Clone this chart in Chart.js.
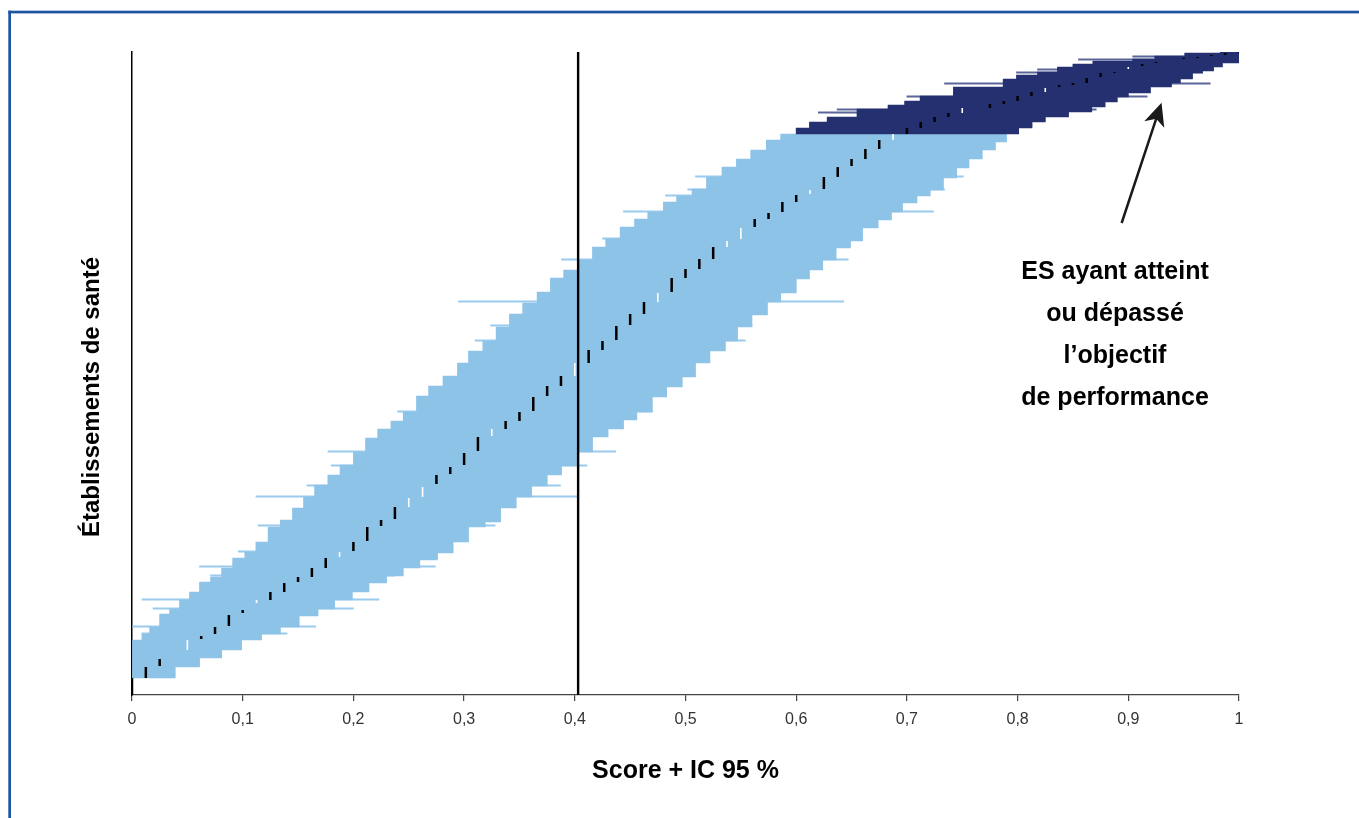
<!DOCTYPE html>
<html lang="fr">
<head>
<meta charset="utf-8">
<title>Établissements de santé – Score + IC 95 %</title>
<script src="https://cdn.jsdelivr.net/npm/chart.js@4.4.1/dist/chart.umd.min.js"></script>
<style>
  html, body { margin: 0; padding: 0; background: #ffffff; overflow: hidden; }
  #wrap { width: 1359px; height: 818px; position: relative; }
</style>
</head>
<body>
<div id="wrap"><canvas id="c" width="1359" height="818"></canvas></div>
<script>
// ---------------- DATA ----------------
// Hospitals are ranked from the bottom (rank 0) to the top; runs of consecutive
// hospitals sharing the same lower / upper bound of the 95 % CI.
const lowerCounts = [55,6,7,13,5,9,8,10,5,9, 10,6,10,15,7,12,11,12,10,10, 13,14,9,8,9,16,10,10,13,12,
                     10,14,13,11,11,14,8,10,13,8, 12,8,7,10,6,7,12,10,8,9, 10,6,
                     6,6,5,8,4,4,5,9,8,4, 3,5,3,3,2,3,3,1];
const lowerValues = [0,0.009,0.016,0.025,0.034,0.043,0.052,0.061,0.071,0.081,
                     0.091,0.102,0.112,0.123,0.134,0.145,0.155,0.165,0.177,0.188,
                     0.200,0.211,0.222,0.234,0.245,0.257,0.268,0.281,0.294,0.304,
                     0.317,0.329,0.341,0.353,0.366,0.378,0.390,0.403,0.416,0.428,
                     0.441,0.454,0.466,0.480,0.492,0.506,0.519,0.533,0.546,0.559,
                     0.573,0.586,
                     0.600,0.612,0.628,0.655,0.683,0.698,0.712,0.742,0.787,0.799,
                     0.818,0.836,0.850,0.868,0.904,0.924,0.951,0.983];
const upperCounts = [17,11,9,8,10,6,7,11,7,9, 8,9,7,8,8,7,11,15,5,14, 11,11,11,9,14,15,8,9,8,15,
                     10,10,14,12,10,14,12,13,9,14, 9,10,12,7,13,8,8,9,7,6, 12,10,9,9,8,8,
                     6,6,5,5,5,5,5,4,6,4, 4,6,2,4,4,11];
const upperValues = [0,0.039,0.061,0.081,0.099,0.117,0.134,0.151,0.168,0.183,
                     0.199,0.214,0.230,0.245,0.260,0.276,0.290,0.304,0.319,0.333,
                     0.347,0.361,0.375,0.388,0.403,0.416,0.430,0.444,0.456,0.470,
                     0.483,0.497,0.509,0.522,0.536,0.547,0.560,0.574,0.586,0.600,
                     0.612,0.624,0.636,0.649,0.660,0.674,0.686,0.696,0.709,0.721,
                     0.733,0.745,0.756,0.768,0.780,0.790,
                     0.801,0.813,0.825,0.846,0.867,0.879,0.890,0.900,0.920,0.939,
                     0.947,0.958,0.967,0.977,0.985,1];

// Single hospitals with a wider confidence interval
const outlierRank = [61,68,86,95,119,128,143,169,198,209,229,243,283,354,369,393,435,456,483,499,505,518,
                     582,585,598,611,622,625,635,638];
const outlierLow  = [0.009,0,0.019,0.009,0.071,0.061,0.096,0.114,0.112,0.158,0.180,0.177,0.240,0.310,0.324,
                     0.295,0.388,0.425,0.444,0.482,0.502,0.509,
                     0.620,0.637,0.700,0.734,0.799,0.818,0.855,0.904];
const outlierHigh = [0.140,0.166,0.200,0.223,0.237,0.274,0.290,0.328,0.403,0.387,0.411,0.437,0.470,0.554,0.560,
                     0.643,0.647,0.660,0.724,0.709,0.734,0.751,
                     0.846,0.871,0.917,0.974,0.967,0.977,1,1];

// Scores (black marks): score value, first rank, number of hospitals
const markScore = [0,0.0125,0.025,0.0625,0.075,0.0875,0.1,0.125,0.1375,0.15,0.1625,0.175,0.2,0.2125,0.225,0.2375,
                   0.275,0.2875,0.3,0.3125,0.3375,0.35,0.3625,0.375,0.3875,0.4125,0.425,0.4375,0.45,0.4625,
                   0.4875,0.5,0.5125,0.525,0.5625,0.575,0.5875,0.6,0.625,0.6375,0.65,0.6625,0.675,
                   0.7,0.7125,0.725,0.7375,0.775,0.7875,0.8,0.8125,0.8375,0.85,0.8625,0.875,0.8875,
                   0.9125,0.925,0.95,0.9625,0.975,0.9875,1];
const markStart = [0,17,29,56,61,69,82,95,103,113,118,127,144,154,169,176,
                   211,221,230,244,266,274,284,299,309,332,345,355,370,381,
                   403,417,426,436,468,476,483,493,506,518,529,536,546,
                   561,567,573,578,587,591,594,599,608,610,612,618,622,
                   629,632,636,637,639,640,642];
const markCount = [17,11,7,3,7,11,3,8,9,5,9,10,9,14,6,12,
                   9,7,12,14,8,9,14,10,10,13,9,14,11,12,
                   14,9,10,12,8,6,10,7,12,10,7,10,9,
                   6,6,5,4,4,3,5,4,2,2,5,4,1,
                   2,1,1,1,1,2,1];
// Scores drawn as white marks
const whiteScore = [0.05,0.1125,0.1875,0.25,0.2625,0.325,0.4,0.475,0.5375,0.55,0.6125,0.6875,0.75,0.825,0.9];
const whiteStart = [45,92,138,188,198,259,319,393,448,456,501,555,582,603,626];
const whiteCount = [10,3,5,9,10,7,13,9,6,11,4,6,5,4,2];

const referenceScore = 0.403;   // vertical reference line
const objective = 0.6;          // lower bound reaching the performance objective

const xTickLabels = ['0','0,1','0,2','0,3','0,4','0,5','0,6','0,7','0,8','0,9','1'];
const xTitle = 'Score + IC 95 %';
const yTitle = 'Établissements de santé';
const noteLines = ['ES ayant atteint', 'ou dépassé', 'l’objectif', 'de performance'];

// ---------------- BUILD ----------------
function expandRuns(counts, values) {
  const out = [];
  counts.forEach((c, i) => { for (let k = 0; k < c; k++) out.push(values[i]); });
  return out;
}
const lowerByRank = expandRuns(lowerCounts, lowerValues);
const upperByRank = expandRuns(upperCounts, upperValues);
const N = lowerByRank.length;
const bandData = lowerByRank.map((lo, r) => ({ y: r, x: [lo, upperByRank[r]] }));
const navyStart = lowerByRank.findIndex(v => v >= objective);
const outlierData = outlierRank.map((r, i) => ({ y: r, x: [outlierLow[i], outlierHigh[i]] }));

function segments(scores, starts, counts) {
  const out = [];
  scores.forEach((s, i) => {
    out.push({ x: s, y: starts[i] - 0.5 });
    out.push({ x: s, y: starts[i] + counts[i] - 0.5 });
    out.push({ x: null, y: null });
  });
  return out;
}

const LIGHT = '#8ec3e8';
const NAVY = '#243070';
const LIGHT_THIN = '#9acbee';
const NAVY_THIN = '#5a6699';
const FONT = '"Liberation Sans", Arial, Helvetica, sans-serif';
Chart.defaults.font.family = FONT;

const decorations = {
  id: 'decorations',
  beforeDraw(chart) {
    const ctx = chart.ctx;
    ctx.save();
    ctx.fillStyle = '#ffffff';
    ctx.fillRect(0, 0, chart.width, chart.height);
    ctx.fillStyle = '#1c55a0';
    ctx.fillRect(8.3, 10.7, 2.7, chart.height);
    ctx.fillRect(8.3, 10.7, chart.width, 2.7);
    ctx.restore();
  },
  afterDraw(chart) {
    const ctx = chart.ctx;
    const xs = chart.scales.x, ys = chart.scales.y;
    ctx.save();
    // y axis title
    ctx.translate(92, 397);
    ctx.rotate(-Math.PI / 2);
    ctx.font = 'bold 24px ' + FONT;
    ctx.textAlign = 'center';
    ctx.textBaseline = 'middle';
    ctx.fillStyle = '#000';
    ctx.fillText(yTitle, 0, 0);
    ctx.restore();

    // annotation text
    ctx.save();
    ctx.font = 'bold 25px ' + FONT;
    ctx.textAlign = 'center';
    ctx.textBaseline = 'middle';
    ctx.fillStyle = '#000';
    const tx = xs.getPixelForValue(0.888);
    const ty = ys.getPixelForValue(422.5);
    noteLines.forEach((t, i) => ctx.fillText(t, tx, ty + i * 42));
    // arrow
    const x0 = xs.getPixelForValue(0.894), y0 = ys.getPixelForValue(471.5);
    const x1 = xs.getPixelForValue(0.930), y1 = ys.getPixelForValue(591.8);
    const dx = x1 - x0, dy = y1 - y0, L = Math.hypot(dx, dy);
    const ux = dx / L, uy = dy / L, px = -uy, py = ux;
    const headL = 23, headW = 10.5;
    ctx.strokeStyle = '#1a1a1a';
    ctx.fillStyle = '#1a1a1a';
    ctx.lineWidth = 2.5;
    ctx.beginPath();
    ctx.moveTo(x0, y0);
    ctx.lineTo(x1 - ux * 16, y1 - uy * 16);
    ctx.stroke();
    ctx.beginPath();
    ctx.moveTo(x1, y1);
    ctx.lineTo(x1 - ux * headL + px * headW, y1 - uy * headL + py * headW);
    ctx.lineTo(x1 - ux * 17, y1 - uy * 17);
    ctx.lineTo(x1 - ux * headL - px * headW, y1 - uy * headL - py * headW);
    ctx.closePath();
    ctx.fill();
    ctx.restore();
  }
};

new Chart(document.getElementById('c'), {
  type: 'bar',
  data: {
    datasets: [
      {
        type: 'line',
        label: 'Score',
        data: segments(markScore, markStart, markCount),
        borderColor: '#000000',
        borderWidth: 2.5,
        pointRadius: 0,
        spanGaps: false,
        order: 0
      },
      {
        type: 'line',
        label: 'Score (blanc)',
        data: segments(whiteScore, whiteStart, whiteCount),
        borderColor: '#ffffff',
        borderWidth: 1.6,
        pointRadius: 0,
        spanGaps: false,
        order: 1
      },
      {
        type: 'line',
        label: 'Référence',
        data: [{ x: referenceScore, y: -0.5 }, { x: referenceScore, y: N - 0.5 }],
        borderColor: '#000000',
        borderWidth: 2.4,
        pointRadius: 0,
        order: 2
      },
      {
        label: 'IC 95 %',
        data: bandData,
        backgroundColor: (c) => (c.raw && c.raw.x[0] >= objective ? NAVY : LIGHT),
        barPercentage: 1,
        categoryPercentage: 1,
        grouped: false,
        order: 3
      },
      {
        label: 'IC 95 % (ES isolés)',
        data: outlierData,
        backgroundColor: (c) => (c.raw && c.raw.y >= navyStart ? NAVY_THIN : LIGHT_THIN),
        barThickness: 1.4,
        grouped: false,
        order: 4
      }
    ]
  },
  plugins: [decorations],
  options: {
    indexAxis: 'y',
    responsive: false,
    animation: false,
    events: [],
    layout: { padding: { left: 0, right: 120, top: 52, bottom: 0 } },
    plugins: { legend: { display: false }, tooltip: { enabled: false } },
    scales: {
      x: {
        type: 'linear',
        min: 0,
        max: 1,
        offset: false,
        afterFit: (s) => { s.height = 123; },
        ticks: {
          stepSize: 0.1,
          autoSkip: false,
          maxRotation: 0,
          padding: 9,
          color: '#333333',
          font: { size: 16 },
          callback: (v, i) => xTickLabels[i]
        },
        grid: { display: true, drawOnChartArea: false, drawTicks: true, tickLength: 6, color: '#444444', lineWidth: 1.2 },
        border: { display: true, color: '#444444', width: 1.3 },
        title: {
          display: true,
          text: xTitle,
          color: '#000000',
          font: { size: 25, weight: 'bold' },
          padding: { top: 0, bottom: 31.5 }
        }
      },
      y: {
        type: 'linear',
        min: -0.5,
        max: N - 0.5,
        offset: false,
        afterFit: (s) => { s.width = 132; },
        ticks: { display: false },
        grid: { display: false },
        border: { display: true, color: '#000000', width: 1.5 }
      }
    }
  }
});
</script>
</body>
</html>
